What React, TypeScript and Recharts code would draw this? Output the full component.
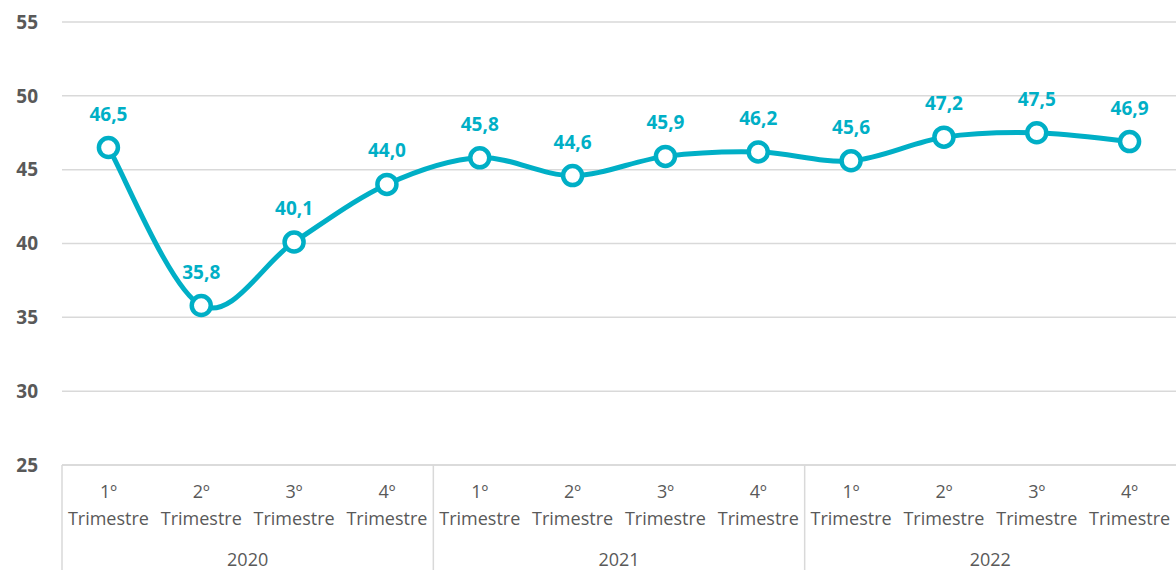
import { useEffect } from 'react'
import { LineChart, Line, XAxis, YAxis, CartesianGrid, LabelList } from 'recharts'

const quarters = ['1º', '2º', '3º', '4º', '1º', '2º', '3º', '4º', '1º', '2º', '3º', '4º']
const years = ['2020', '2020', '2020', '2020', '2021', '2021', '2021', '2021', '2022', '2022', '2022', '2022']
const values = [46.5, 35.8, 40.1, 44.0, 45.8, 44.6, 45.9, 46.2, 45.6, 47.2, 47.5, 46.9]
const yTicks = [25, 30, 35, 40, 45, 50, 55]

const W = 1176
const H = 570
const Y_AXIS_W = 62
const X_AXIS_H = 105
const TEAL = '#00AFC6'
const GRAY = '#595959'
const GRID = '#D9D9D9'
const FONT = '"Open Sans", "Noto Sans", sans-serif'

const data = quarters.map((q, i) => ({ key: `${years[i]}-${q}`, q, year: years[i], value: values[i] }))

// Excel-like smoothing (Catmull-Rom as cubic beziers)
const excelCurve = (context: any) => {
  let pts: number[][] = []
  return {
    areaStart() {},
    areaEnd() {},
    lineStart() {
      pts = []
    },
    point(x: number, y: number) {
      pts.push([+x, +y])
    },
    lineEnd() {
      if (!pts.length) return
      context.moveTo(pts[0][0], pts[0][1])
      for (let i = 0; i < pts.length - 1; i++) {
        const p0 = pts[i - 1] || pts[i]
        const p1 = pts[i]
        const p2 = pts[i + 1]
        const p3 = pts[i + 2] || p2
        context.bezierCurveTo(
          p1[0] + (p2[0] - p0[0]) / 6,
          p1[1] + (p2[1] - p0[1]) / 6,
          p2[0] - (p3[0] - p1[0]) / 6,
          p2[1] - (p3[1] - p1[1]) / 6,
          p2[0],
          p2[1],
        )
      }
    },
  }
}

const band = (W - Y_AXIS_W) / quarters.length

const QuarterTick = (props: any) => {
  const { x, y, payload } = props
  const i = payload.index
  return (
    <g>
      <text x={x} y={y + 33} textAnchor="middle" fill={GRAY} fontSize={18} fontFamily={FONT}>
        {quarters[i]}
      </text>
      <text x={x} y={y + 60} textAnchor="middle" fill={GRAY} fontSize={18} fontFamily={FONT}>
        Trimestre
      </text>
      {i % 4 === 0 && (
        <line x1={x - band / 2} x2={x - band / 2} y1={y} y2={H} stroke={GRID} strokeWidth={1.5} />
      )}
      {i % 4 === 1 && (
        <text x={x + band / 2} y={y + 101} textAnchor="middle" fill={GRAY} fontSize={18} fontFamily={FONT}>
          {years[i]}
        </text>
      )}
    </g>
  )
}

const ValueLabel = (props: any) => {
  const { x, y, value } = props
  return (
    <text x={x} y={y - 27} textAnchor="middle" fill={TEAL} fontSize={19} fontWeight="bold" fontFamily={FONT}>
      {Number(value).toFixed(1).replace('.', ',')}
    </text>
  )
}

export default function App() {
  useEffect(() => {
    document.body.style.margin = '0'
  }, [])

  return (
    <div style={{ width: W, height: H, background: '#fff' }}>
      <LineChart width={W} height={H} data={data} margin={{ top: 22, right: 0, left: 0, bottom: 0 }}>
        <CartesianGrid vertical={false} stroke={GRID} strokeWidth={1.5} />
        <XAxis
          dataKey="key"
          height={X_AXIS_H}
          interval={0}
          padding={{ left: band / 2, right: band / 2 }}
          tickLine={false}
          tickSize={0}
          tickMargin={0}
          axisLine={{ stroke: GRID, strokeWidth: 1.5 }}
          tick={<QuarterTick />}
        />
        <YAxis
          width={Y_AXIS_W}
          domain={[25, 55]}
          ticks={yTicks}
          interval={0}
          axisLine={false}
          tickLine={false}
          tickMargin={18}
          tick={{ fill: GRAY, fontSize: 19, fontWeight: 'bold', fontFamily: FONT }}
        />
        <Line
          dataKey="value"
          type={excelCurve as any}
          stroke={TEAL}
          strokeWidth={5}
          dot={{ r: 9.5, fill: '#fff', stroke: TEAL, strokeWidth: 4.5 }}
          activeDot={false}
          isAnimationActive={false}
        >
          <LabelList dataKey="value" content={<ValueLabel />} />
        </Line>
      </LineChart>
    </div>
  )
}
